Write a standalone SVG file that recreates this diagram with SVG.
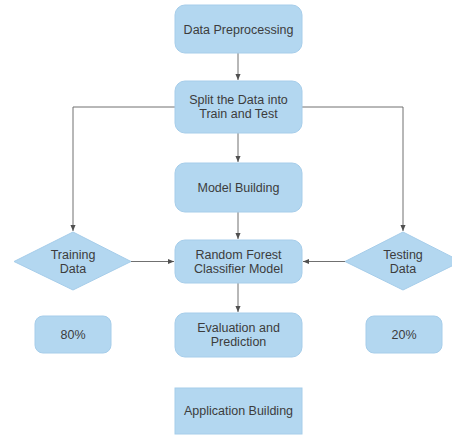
<svg xmlns="http://www.w3.org/2000/svg" width="452" height="436" viewBox="0 0 452 436">
  <style>
    .box { fill: #b3d7f0; stroke: #a6cdea; stroke-width: 1; }
    .lbl { font-family: "Liberation Sans", Arial, sans-serif; font-size: 12.5px; fill: #3c3c3c; text-anchor: middle; }
    .edge { fill: none; stroke: #707070; stroke-width: 1; }
  </style>
  <defs>
    <marker id="arrow" viewBox="0 0 8 8" refX="7" refY="4" markerWidth="7" markerHeight="7" orient="auto" markerUnits="userSpaceOnUse">
      <path d="M0,1 L7,4 L0,7 Z" fill="#505050"/>
    </marker>
  </defs>
  <rect width="452" height="436" fill="#ffffff"/>

  <!-- connectors -->
  <g id="connectors">
    <line class="edge" x1="238" y1="53" x2="238" y2="80" marker-end="url(#arrow)"/>
    <line class="edge" x1="238" y1="133" x2="238" y2="162" marker-end="url(#arrow)"/>
    <line class="edge" x1="238" y1="212" x2="238" y2="239" marker-end="url(#arrow)"/>
    <line class="edge" x1="238" y1="283" x2="238" y2="312" marker-end="url(#arrow)"/>
    <polyline class="edge" points="175,107 73,107 73,231" marker-end="url(#arrow)"/>
    <polyline class="edge" points="302,107 403,107 403,231" marker-end="url(#arrow)"/>
    <line class="edge" x1="131" y1="261.5" x2="174" y2="261.5" marker-end="url(#arrow)"/>
    <line class="edge" x1="346" y1="261.5" x2="303" y2="261.5" marker-end="url(#arrow)"/>
  </g>

  <!-- nodes -->
  <g id="data-preprocessing">
    <rect class="box" x="175" y="5" width="127" height="48" rx="10"/>
    <text class="lbl" x="238.5" y="34">Data Preprocessing</text>
  </g>
  <g id="split-data">
    <rect class="box" x="175" y="81" width="127" height="52" rx="10"/>
    <text class="lbl" x="238.5" y="104">Split the Data into</text>
    <text class="lbl" x="238.5" y="118">Train and Test</text>
  </g>
  <g id="model-building">
    <rect class="box" x="175" y="163" width="127" height="49" rx="10"/>
    <text class="lbl" x="238.5" y="192">Model Building</text>
  </g>
  <g id="random-forest">
    <rect class="box" x="175" y="240" width="127" height="43" rx="10"/>
    <text class="lbl" x="238.5" y="259">Random Forest</text>
    <text class="lbl" x="238.5" y="273">Classifier Model</text>
  </g>
  <g id="evaluation">
    <rect class="box" x="175" y="313" width="127" height="44" rx="10"/>
    <text class="lbl" x="238.5" y="332">Evaluation and</text>
    <text class="lbl" x="238.5" y="346">Prediction</text>
  </g>
  <g id="application-building">
    <rect class="box" x="175" y="388" width="127" height="46"/>
    <text class="lbl" x="238.5" y="415">Application Building</text>
  </g>
  <g id="training-data">
    <polygon class="box" points="73,232 131,261.5 73,290 14,261.5"/>
    <text class="lbl" x="73" y="259">Training</text>
    <text class="lbl" x="73" y="273">Data</text>
  </g>
  <g id="testing-data">
    <polygon class="box" points="403,232 461,261.5 403,290 345,261.5"/>
    <text class="lbl" x="403" y="259">Testing</text>
    <text class="lbl" x="403" y="273">Data</text>
  </g>
  <g id="train-share">
    <rect class="box" x="35" y="316" width="76" height="37" rx="8"/>
    <text class="lbl" x="73" y="339">80%</text>
  </g>
  <g id="test-share">
    <rect class="box" x="366" y="316" width="76" height="37" rx="8"/>
    <text class="lbl" x="404" y="339">20%</text>
  </g>
</svg>
